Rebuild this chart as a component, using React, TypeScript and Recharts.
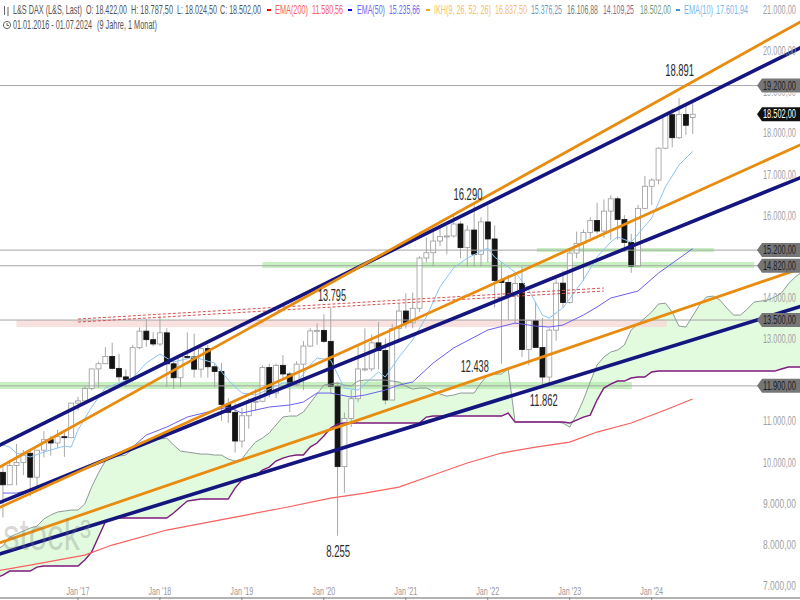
import {
  Area,
  Bar,
  ComposedChart,
  Line,
  ReferenceArea,
  ReferenceDot,
  ReferenceLine,
  XAxis,
  YAxis,
} from "recharts";

// month index 0 = Jan 2016, one candle per month up to Jul 2024 (102)
const opens = [
  10485, 9798, 9495, 9965, 10038, 10262, 9680, 10337, 10592, 10511, 10665, 10640,
  11481, 11535, 11834, 12312, 12438, 12615, 12325, 12118, 12055, 12829, 13230, 13023,
  12918, 13189, 12436, 12097, 12612, 12604, 12306, 12805, 12364, 12247, 11447, 11257,
  10559, 11173, 11516, 11526, 12344, 11727, 12399, 12189, 11939, 12428, 12867, 13236,
  13249, 12982, 11890, 9936, 11107, 11587, 12311, 12313, 12945, 12761, 11556, 13291,
  13719, 13433, 13786, 15008, 15136, 15421, 15531, 15544, 15835, 15261, 15688, 15100,
  15885, 15471, 14461, 14415, 14098, 14388, 12784, 13484, 12835, 12114, 13254, 14397,
  13924, 15128, 15365, 15629, 15922, 15664, 16148, 16447, 15947, 15387, 14810, 16215,
  16752, 16903, 17678, 18492, 17932, 18498, 18422,
];
const highs = [
  10485, 9995, 10100, 10486, 10340, 10370, 10337, 10802, 10683, 10827, 10800, 11481,
  11635, 11893, 12313, 12487, 12841, 12952, 12676, 12300, 12900, 13320, 13525, 13200,
  13597, 13300, 12500, 12650, 13200, 13170, 12890, 12890, 12460, 12460, 11600, 11480,
  11370, 11600, 11820, 12400, 12440, 12440, 12650, 12240, 12500, 12990, 13300, 13420,
  13640, 13795, 12000, 11250, 11800, 12900, 13300, 13150, 13450, 13050, 13400, 13900,
  14150, 14170, 15050, 15500, 15730, 15800, 15800, 16030, 15900, 15800, 16290, 16000,
  16290, 15800, 14900, 14600, 14600, 14800, 13500, 13950, 13550, 13300, 14500, 14700,
  15250, 15650, 15700, 16000, 16350, 16430, 16530, 16500, 16050, 15600, 16300, 17000,
  16950, 17700, 18500, 18640, 18891, 18700, 18787,
];
const lows = [
  9314, 8699, 9495, 9483, 9733, 9214, 9373, 10157, 10205, 10390, 10174, 10640,
  11300, 11500, 11800, 11850, 12432, 12300, 12000, 11868, 12000, 12790, 12850, 12860,
  12870, 11870, 11830, 11870, 12580, 12100, 12100, 12100, 11860, 11050, 11000, 10280,
  10400, 10860, 11300, 11500, 11620, 11600, 12100, 11260, 11900, 11800, 12850, 12900,
  12950, 11700, 8255, 9300, 10900, 11500, 12250, 12250, 12300, 11450, 11550, 12950,
  13300, 13300, 13700, 14900, 14800, 15300, 15100, 15500, 15000, 14800, 14800, 14800,
  14900, 13800, 12438, 13500, 13400, 12600, 12400, 12850, 11862, 11900, 13000, 13800,
  13900, 15000, 14450, 15500, 15600, 15500, 15450, 15450, 15150, 14650, 14800, 16200,
  16300, 16800, 17650, 17700, 17900, 18000, 18024,
];
const closes = [
  9798, 9495, 9965, 10038, 10262, 9680, 10337, 10592, 10511, 10665, 10640, 11481,
  11535, 11834, 12312, 12438, 12615, 12325, 12118, 12055, 12829, 13230, 13023, 12918,
  13189, 12436, 12097, 12612, 12604, 12306, 12805, 12364, 12247, 11447, 11257, 10559,
  11173, 11516, 11526, 12344, 11727, 12399, 12189, 11939, 12428, 12867, 13236, 13249,
  12982, 11890, 9936, 11107, 11587, 12311, 12313, 12945, 12761, 11556, 13291, 13719,
  13433, 13786, 15008, 15136, 15421, 15531, 15544, 15835, 15261, 15688, 15100, 15885,
  15471, 14461, 14415, 14098, 14388, 12784, 13484, 12835, 12114, 13254, 14397, 13924,
  15128, 15365, 15629, 15922, 15664, 16148, 16447, 15947, 15387, 14810, 16215, 16752,
  16903, 17678, 18492, 17932, 18498, 18235, 18502,
];

// Ichimoku spans run 16 months past the last candle, so index 0..118
const spanA = [
  7909, 8006, 8224, 8298, 8370, 8443, 8492, 8662, 8759, 8832, 8857, 8881, 8881, 9027, 9440, 9780,
  10072, 10193, 10193, 10218, 10364, 10510, 10558, 10582, 10607, 10631, 10461, 10315, 10291, 10266,
  10242, 10242, 10218, 10218, 10121, 10072, 10121, 10339, 10534, 10631, 10753, 10947, 11142, 11166,
  11166, 11263, 11482, 11701, 11920, 11944, 11968, 11920, 11895, 12017, 12041, 12041, 12041, 12041,
  12017, 11993, 11895, 11822, 11847, 11847, 11774, 11701, 11652, 11676, 11725, 11725, 11725, 11968,
  12163, 12187, 12187, 12309, 11020, 11020, 11020, 11020, 11020, 11020, 11020, 10996, 10898, 11190,
  11555, 11993, 12406, 12600, 12722, 12771, 12892, 13257, 13403, 13548, 13694, 13889, 13913, 13694,
  13354, 13330, 13597, 13865, 14059, 14083, 13986, 13791, 13621, 13621, 13767, 13937, 13962, 13986,
  14059, 14156, 14375, 14545, 14667,
];
const spanB = [
  7228, 7301, 7398, 7398, 7398, 7398, 7495, 7520, 7520, 7520, 7520, 7520, 7520, 7665, 7860, 8224,
  8589, 8662, 8686, 8686, 8686, 8686, 8686, 8686, 8686, 8686, 8808, 8954, 9100, 9124,
  9148, 9148, 9148, 9148, 9148, 9416, 9610, 9683, 9707, 9853, 9926, 10072, 10145, 10193,
  10218, 10218, 10412, 10510, 10680, 10874, 10971, 10996, 10996, 10996, 10996, 10996, 10996, 10996,
  10996, 10996, 10996, 10996, 10996, 11142, 11166, 11166, 11166, 11166, 11166, 11166, 11166, 11166,
  11166, 11166, 11166, 11239, 11020, 11020, 11020, 11020, 11020, 11020, 11020, 11020, 10996, 11069,
  11142, 11190, 11555, 11847, 11944, 12017, 12017, 12090, 12114, 12114, 12236, 12260, 12260, 12260,
  12260, 12260, 12260, 12260, 12260, 12260, 12260, 12260, 12260, 12260, 12260, 12260, 12260, 12260,
  12260, 12309, 12357, 12357, 12357,
];

// moving averages, read at their visible bends
const ema10Months = [1, 2, 3, 5, 7, 10, 11, 12, 14, 16, 20, 22, 24, 26, 29, 32, 34, 36, 38, 42, 44, 46, 47, 49, 51, 53, 56, 57, 59, 61, 63, 65, 67, 69, 72, 73, 76, 78, 80, 81, 83, 86, 88, 90, 91, 93, 96, 98, 100, 102];
const ema10Values = [10461, 10412, 10266, 10169, 10291, 10437, 10412, 10826, 11385, 11847, 12090, 12454, 12673, 12479, 12600, 12454, 12041, 11725, 11676, 11968, 11968, 12406, 12576, 12527, 11847, 11798, 12236, 12114, 12600, 13014, 13573, 14302, 14764, 15007, 15250, 15031, 14667, 14229, 13621, 13548, 13791, 14472, 15031, 15396, 15518, 15396, 15979, 16733, 17268, 17601];
const ema50Months = [1, 3, 5, 7, 20, 22, 25, 28, 34, 36, 40, 43, 45, 47, 49, 52, 54, 57, 59, 61, 64, 67, 72, 76, 79, 81, 83, 86, 88, 90, 94, 97, 102];
const ema50Values = [9294, 9294, 9367, 9489, 10412, 10704, 10898, 11142, 11385, 11239, 11385, 11434, 11506, 11725, 11725, 11628, 11676, 11798, 11920, 11993, 12454, 12819, 13257, 13427, 13354, 13330, 13378, 13621, 13816, 14034, 14205, 14642, 15235];
const ema200Months = [0, 5, 13, 17, 25, 35, 42, 49, 54, 59, 64, 69, 74, 79, 84, 88, 93, 98, 102];
const ema200Values = [7396, 7544, 7787, 8030, 8395, 8711, 8930, 9173, 9294, 9440, 9732, 10024, 10267, 10412, 10534, 10777, 10996, 11312, 11580];

// hand drawn trend channels: value at month 0 and month 118
const trendLines = [
  { key: "navy1", from: 10413, to: 20137, color: "#15157f", width: 3.6 },
  { key: "navy2", from: 9027, to: 16976, color: "#15157f", width: 3.6 },
  { key: "navy3", from: 7787, to: 13840, color: "#15157f", width: 3.6 },
  { key: "orange1", from: 9878, to: 20769, color: "#e88c10", width: 2.8 },
  { key: "orange2", from: 8905, to: 17778, color: "#e88c10", width: 2.8 },
  { key: "orange3", from: 8054, to: 14764, color: "#e88c10", width: 2.8 },
];
// dashed red pair, month 12 to month 89
const dashUpper = [13524, 14278];
const dashLower = [13451, 14205];

const yTicks = [7000, 8000, 9000, 10000, 11000, 13000, 14000, 16000, 17000, 18000, 19000, 20000, 21000];
const xTickMonths = [12, 24, 36, 48, 60, 72, 84, 96];
const xTickLabels = ["Jan '17", "Jan '18", "Jan '19", "Jan '20", "Jan '21", "Jan '22", "Jan '23", "Jan '24"];
const levels = [19200, 15200, 14820, 13500, 11900];
const notes = [
  { m: 100.1, v: 19432, text: "18.891", w: 29 },
  { m: 69.1, v: 16418, text: "16.290", w: 29 },
  { m: 49.2, v: 13963, text: "13.795", w: 28 },
  { m: 70.1, v: 12236, text: "12.438", w: 28 },
  { m: 80.2, v: 11410, text: "11.862", w: 28 },
  { m: 50.1, v: 7739, text: "8.255", w: 24 },
];

const header = [
  { t: "L&S DAX (L&S, Last)", x: 13, w: 69, c: "#555", y: 14 },
  { t: "O: 18.422,00", x: 86, w: 41, c: "#555", y: 14 },
  { t: "H: 18.787,50", x: 131, w: 42, c: "#555", y: 14 },
  { t: "L: 18.024,50", x: 177, w: 40, c: "#555", y: 14 },
  { t: "C: 18.502,00", x: 220, w: 41, c: "#555", y: 14 },
  { t: "EMA(200)", x: 275, w: 33, c: "#f76060", y: 14 },
  { t: "11.580,56", x: 312, w: 31, c: "#f76060", y: 14 },
  { t: "EMA(50)", x: 357, w: 28, c: "#6a6af5", y: 14 },
  { t: "15.235,66", x: 389, w: 31, c: "#6a6af5", y: 14 },
  { t: "IKH(9, 26, 52, 26)", x: 434, w: 57, c: "#f5bd6e", y: 14 },
  { t: "16.837,50", x: 495, w: 32, c: "#f5bd6e", y: 14 },
  { t: "15.376,25", x: 531, w: 31, c: "#6f9dc0", y: 14 },
  { t: "16.106,88", x: 567, w: 31, c: "#777", y: 14 },
  { t: "14.109,25", x: 603, w: 31, c: "#8d6a8d", y: 14 },
  { t: "18.502,00", x: 640, w: 31, c: "#6f9a76", y: 14 },
  { t: "EMA(10)", x: 684, w: 29, c: "#79b8f0", y: 14 },
  { t: "17.601,94", x: 716, w: 32, c: "#79b8f0", y: 14 },
  { t: "01.01.2016 - 01.07.2024", x: 13, w: 79, c: "#555", y: 29 },
  { t: "(9 Jahre, 1 Monat)", x: 97, w: 60, c: "#555", y: 29 },
];
const legendBars = [
  { x: 267, c: "#f00000" },
  { x: 348, c: "#0000e0" },
  { x: 426, c: "#f5a623" },
  { x: 676, c: "#4a90d9" },
];

const de = (v: number) => `${v.toLocaleString("de-DE")},00`;

const rows = spanA.map((a, m) => {
  const hasCandle = m < closes.length;
  const row: any = {
    m,
    open: hasCandle ? opens[m] : null,
    close: hasCandle ? closes[m] : null,
    high: hasCandle ? highs[m] : null,
    low: hasCandle ? lows[m] : null,
    wick: hasCandle ? [lows[m], highs[m]] : null,
    cloud: [Math.min(a, spanB[m]), Math.max(a, spanB[m])],
    spanA: a,
    spanB: spanB[m],
  };
  const e10 = ema10Months.indexOf(m);
  if (e10 >= 0) row.ema10 = ema10Values[e10];
  const e50 = ema50Months.indexOf(m);
  if (e50 >= 0) row.ema50 = ema50Values[e50];
  const e200 = ema200Months.indexOf(m);
  if (e200 >= 0) row.ema200 = ema200Values[e200];
  for (const t of trendLines) {
    if (m === 0) row[t.key] = t.from;
    if (m === 118) row[t.key] = t.to;
  }
  if (m === 12) {
    row.dashUpper = dashUpper[0];
    row.dashLower = dashLower[0];
  }
  if (m === 89) {
    row.dashUpper = dashUpper[1];
    row.dashLower = dashLower[1];
  }
  return row;
});

const measure = document.createElement("canvas").getContext("2d")!;

// the reference is squeezed sideways, so scale each text to its measured width
function Squeezed({ x, y, w, size, fill, opacity, children }: any) {
  measure.font = `${size}px "Liberation Sans"`;
  const sx = w / measure.measureText(children).width;
  return (
    <text
      transform={`translate(${x} ${y}) scale(${sx} 1)`}
      fontFamily="Liberation Sans"
      fontSize={size}
      fill={fill}
      fillOpacity={opacity}
    >
      {children}
    </text>
  );
}

function Candle(props: any) {
  const { x, y, width, height, payload } = props;
  if (payload == null || payload.open == null || !Number.isFinite(y)) return null;
  const { open, close, high, low } = payload;
  const k = height / (high - low);
  const top = y + (high - Math.max(open, close)) * k;
  const bottom = y + (high - Math.min(open, close)) * k;
  const cx = x + width / 2;
  const down = close < open;
  return (
    <g>
      <line x1={cx} x2={cx} y1={y} y2={y + height} stroke="#a8a8a8" strokeWidth={1} />
      <rect
        x={x}
        y={top}
        width={width}
        height={Math.max(bottom - top, 1)}
        fill={down ? "#141414" : "#fff"}
        stroke={down ? "#141414" : "#9a9a9a"}
        strokeWidth={0.8}
      />
    </g>
  );
}

function PriceTag({ viewBox, text, bg, fg }: any) {
  const y = viewBox.y;
  return (
    <g>
      <polygon
        points={`757,${y} 762,${y - 7} 800,${y - 7} 800,${y + 7} 762,${y + 7}`}
        fill={bg}
      />
      <Squeezed x={763} y={y + 4} w={33} size={12} fill={fg}>
        {text}
      </Squeezed>
    </g>
  );
}

function NoteLabel({ viewBox, text, w }: any) {
  return (
    <Squeezed x={viewBox.x + viewBox.width / 2 - w / 2} y={viewBox.y + viewBox.height / 2} w={w} size={16} fill="#2b2b2b">
      {text}
    </Squeezed>
  );
}

function PriceTick({ y, payload }: any) {
  const label = (
    <Squeezed x={763} y={y + 2.5} w={33} size={12} fill="#a2a2a2">
      {de(payload.value)}
    </Squeezed>
  );
  // only the lower part of 19.000,00 shows under the 19.200,00 tag
  if (payload.value !== 19000) return label;
  return (
    <g>
      <clipPath id="under-tag">
        <rect x={755} y={y - 0.5} width={45} height={10} />
      </clipPath>
      <g clipPath="url(#under-tag)">{label}</g>
    </g>
  );
}

function MonthTick({ x, y, payload }: any) {
  return (
    <g>
      <line x1={x} x2={x} y1={y + 7} y2={y + 10} stroke="#888" />
      <Squeezed x={x - 11.5} y={y + 5} w={23} size={11} fill="#999">
        {xTickLabels[xTickMonths.indexOf(payload.value)]}
      </Squeezed>
    </g>
  );
}

export default function App() {
  return (
    <div style={{ position: "absolute", left: 0, top: 0, width: 800, height: 600, background: "#fff", overflow: "hidden" }}>
      <ComposedChart
        width={800}
        height={600}
        data={rows}
        margin={{ top: 0, right: 0, bottom: 2, left: 0 }}
      >
        <XAxis
          dataKey="m"
          type="number"
          domain={[0.586, 117.72]}
          allowDataOverflow
          ticks={xTickMonths}
          height={1}
          mirror
          tick={<MonthTick />}
          tickLine={false}
          axisLine={{ stroke: "#666" }}
        />
        <YAxis
          type="number"
          orientation="right"
          domain={[6743, 21280]}
          allowDataOverflow
          ticks={yTicks}
          width={1}
          mirror
          tick={<PriceTick />}
          tickLine={false}
          axisLine={false}
        />
        <Area dataKey="cloud" fill="#e2fbdf" fillOpacity={1} stroke="none" isAnimationActive={false} activeDot={false} />
        <ReferenceArea x1={3} x2={98.2} y1={13330} y2={13500} fill="#f6d9d7" fillOpacity={0.8} stroke="none" />
        <ReferenceArea x1={39} x2={111} y1={14764} y2={14910} fill="#b4ecac" fillOpacity={0.75} stroke="none" />
        <ReferenceArea x1={79.2} x2={105.1} y1={15153} y2={15250} fill="#b4ecac" fillOpacity={0.75} stroke="none" />
        <ReferenceArea x1={0.6} x2={93.1} y1={11822} y2={11993} fill="#b4ecac" fillOpacity={0.75} stroke="none" />
        {levels.map((v) => (
          <ReferenceLine key={v} y={v} stroke="#a6a6a6" strokeWidth={1} />
        ))}
        <Bar dataKey="wick" barSize={5} shape={<Candle />} isAnimationActive={false} />
        <Line dataKey="spanA" stroke="#8f9a98" strokeWidth={1} dot={false} activeDot={false} isAnimationActive={false} />
        <Line dataKey="spanB" stroke="#7d1a7d" strokeWidth={1.4} dot={false} activeDot={false} isAnimationActive={false} />
        <Line dataKey="ema200" stroke="#f96060" strokeWidth={1.2} dot={false} activeDot={false} connectNulls isAnimationActive={false} />
        <Line dataKey="ema50" stroke="#6a60f0" strokeWidth={1} dot={false} activeDot={false} connectNulls isAnimationActive={false} />
        <Line dataKey="ema10" stroke="#8cc4f5" strokeWidth={1} dot={false} activeDot={false} connectNulls isAnimationActive={false} />
        <Line dataKey="dashUpper" stroke="#d8504c" strokeWidth={1} strokeDasharray="3 2" dot={false} activeDot={false} connectNulls isAnimationActive={false} />
        <Line dataKey="dashLower" stroke="#d8504c" strokeWidth={1} strokeDasharray="3 2" dot={false} activeDot={false} connectNulls isAnimationActive={false} />
        {trendLines.map((t) => (
          <Line
            key={t.key}
            dataKey={t.key}
            stroke={t.color}
            strokeWidth={t.width}
            dot={false}
            activeDot={false}
            connectNulls
            isAnimationActive={false}
          />
        ))}
        {notes.map((n) => (
          <ReferenceDot
            key={n.text}
            x={n.m}
            y={n.v}
            r={0}
            stroke="none"
            label={<NoteLabel text={n.text} w={n.w} />}
          />
        ))}
        {levels.map((v) => (
          <ReferenceLine
            key={`tag-${v}`}
            y={v}
            stroke="none"
            label={<PriceTag text={de(v)} bg="#767676" fg="#1d1d1d" />}
          />
        ))}
        <ReferenceLine
          y={18502}
          stroke="none"
          label={<PriceTag text={de(18502)} bg="#111" fg="#fff" />}
        />
      </ComposedChart>
      <svg width={800} height={600} style={{ position: "absolute", left: 0, top: 0, pointerEvents: "none" }}>
        <Squeezed x={3} y={550} w={88} size={44} fill="#777" opacity={0.28}>
          stock³
        </Squeezed>
        {header.map((h) => (
          <Squeezed key={h.t} x={h.x} y={h.y} w={h.w} size={12} fill={h.c}>
            {h.t}
          </Squeezed>
        ))}
        {legendBars.map((b) => (
          <rect key={b.x} x={b.x} y={9} width={4} height={2} fill={b.c} />
        ))}
        <g stroke="#666" strokeWidth={1} fill="none">
          <path d="M4.5 6 V15 M8 7 V16" />
          <circle cx={7} cy={25} r={3.6} />
          <path d="M7 23 V25.5 H9" />
        </g>
      </svg>
    </div>
  );
}
